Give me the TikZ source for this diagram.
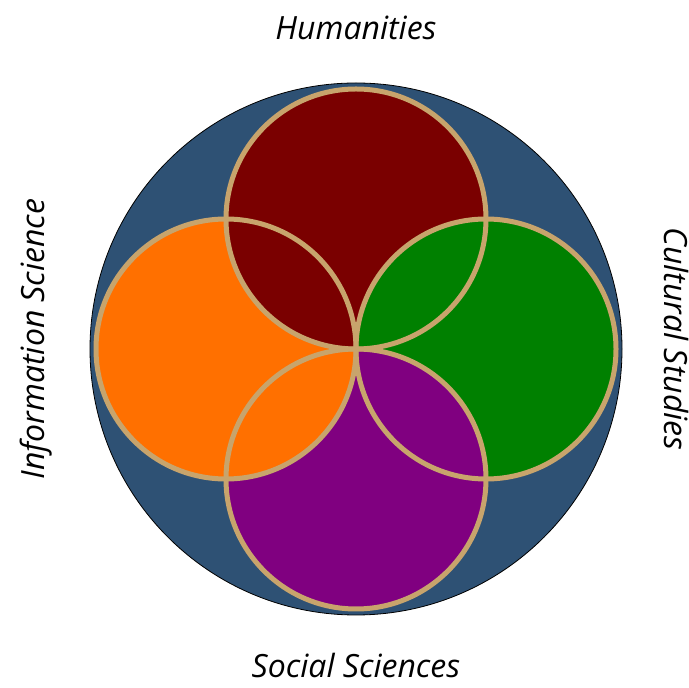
\documentclass[tikz,border=0pt]{standalone}
\usepackage{fontspec}
\setmainfont{Open Sans}
\definecolor{discblue}{RGB}{46,81,116}
\definecolor{humred}{RGB}{122,0,0}
\definecolor{infoorange}{RGB}{255,112,0}
\definecolor{cultgreen}{RGB}{0,128,0}
\definecolor{socpurple}{RGB}{128,0,128}
\definecolor{rimtan}{RGB}{200,164,108}
\begin{document}
\begin{tikzpicture}[x=1pt,y=1pt,
		petal/.style={circle,inner sep=0pt,minimum size=260pt},
		rim/.style={draw=rimtan,line width=5pt},
		field/.style={font=\fontsize{32}{36}\selectfont\itshape}]
		\useasboundingbox (0,0) rectangle (688,688);
		\node [circle,draw=black,thick,fill=discblue,inner sep=0pt,minimum size=532pt] (disc) at (356,339) {};
		% fills first, outlines afterwards
		\node [petal,fill=infoorange] (info) at (226,339) {};
		\node [petal,fill=humred] (hum) at (356,469) {};
		\node [petal,fill=cultgreen] (cult) at (486,339) {};
		\node [petal,fill=socpurple] (soc) at (356,209) {};
		\begin{scope}
			\clip (soc.center) circle (130);
			\fill [infoorange] (info.center) circle (130);
		\end{scope}
		\foreach \n in {info,hum,cult,soc}
			\draw [rim] (\n.center) circle (130);
		% names round the disc
		\node [field] (humname) at (356,660) {Humanities};
		\node [field] (socname) at (356,22) {Social Sciences};
		\node [field,rotate=90] (infoname) at (36,349) {Information Science};
		\node [field,rotate=-90] (cultname) at (676,349) {Cultural Studies};
	\end{tikzpicture}
\end{document}
